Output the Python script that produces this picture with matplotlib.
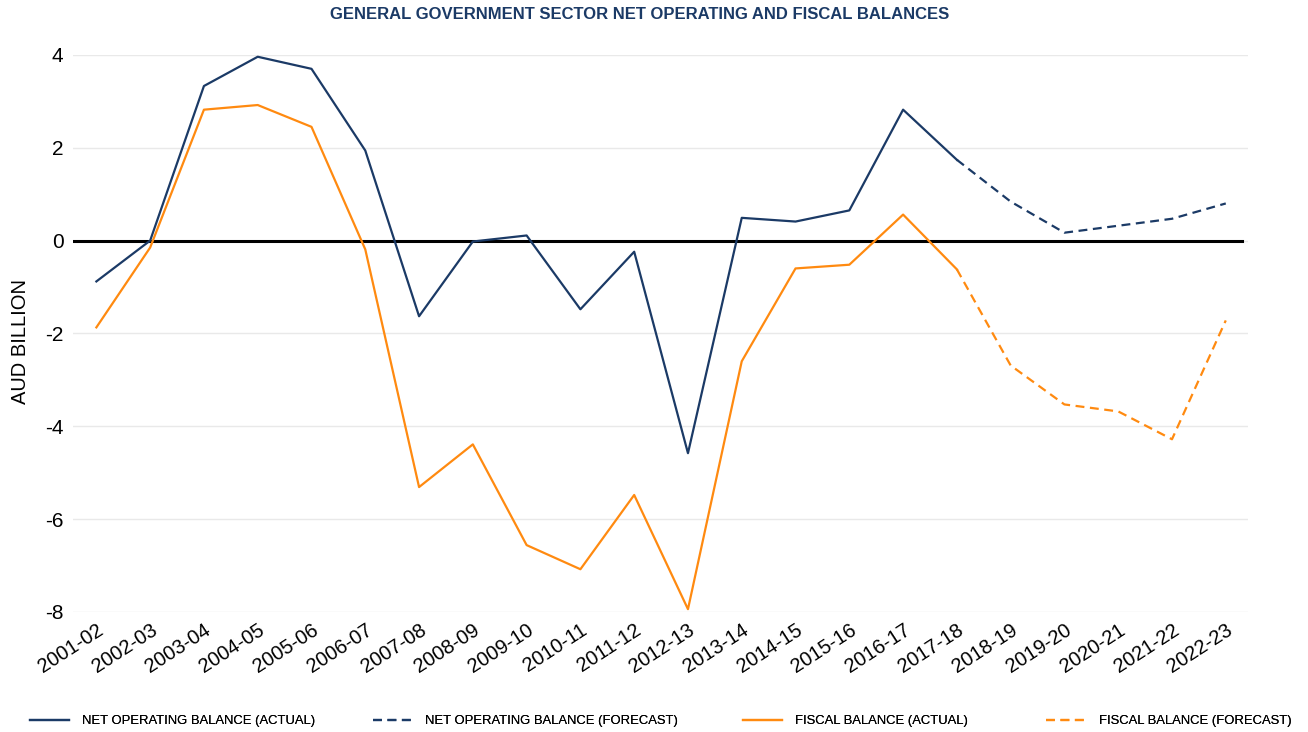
import matplotlib.pyplot as plt
import numpy as np

years = ["2001-02", "2002-03", "2003-04", "2004-05", "2005-06", "2006-07", "2007-08",
         "2008-09", "2009-10", "2010-11", "2011-12", "2012-13", "2013-14", "2014-15",
         "2015-16", "2016-17", "2017-18", "2018-19", "2019-20", "2020-21", "2021-22", "2022-23"]

# net operating balance, AUD billion (actual up to 2017-18, forecast after)
nob_actual = [-0.88, 0.0, 3.33, 3.96, 3.70, 1.94, -1.63, -0.02, 0.11, -1.48, -0.24,
              -4.58, 0.49, 0.41, 0.65, 2.82, 1.74]
nob_forecast = [1.74, 0.84, 0.17, 0.32, 0.47, 0.80]

# fiscal balance, AUD billion
fb_actual = [-1.87, -0.15, 2.82, 2.92, 2.45, -0.19, -5.31, -4.39, -6.56, -7.08, -5.48,
             -7.94, -2.60, -0.60, -0.52, 0.56, -0.62]
fb_forecast = [-0.62, -2.69, -3.53, -3.68, -4.28, -1.72]

navy = "#1b3a66"
orange = "#ff8a10"

plt.rcParams['font.family'] = ['Liberation Sans', 'DejaVu Sans']

fig = plt.figure(figsize=(13.08, 7.32), dpi=100)
ax = fig.add_axes([0.056, 0.164, 0.898, 0.761])

x = np.arange(len(years))
xa = x[:len(nob_actual)]
xf = x[len(nob_actual) - 1:]

l1, = ax.plot(xa, nob_actual, color=navy, lw=1.6)
l2, = ax.plot(xf, nob_forecast, color=navy, lw=1.6, ls=(0, (4, 2.5)))
l3, = ax.plot(xa, fb_actual, color=orange, lw=1.6)
l4, = ax.plot(xf, fb_forecast, color=orange, lw=1.6, ls=(0, (4, 2.5)))

ax.axhline(0, color="black", lw=2.2, xmin=0.0, xmax=0.995, zorder=1)

ax.set_xlim(-0.43, 21.41)
ax.set_ylim(-8, 4)
ax.set_yticks([4, 2, 0, -2, -4, -6, -8])
ax.set_yticklabels(["4", "2", "0", "-2", "-4", "-6", "-8"], fontsize=15)
ax.set_xticks(x)
ax.set_xticklabels(years, rotation=33, ha="right", rotation_mode="anchor", fontsize=14.5)
ax.tick_params(axis="x", length=0, pad=6)
ax.tick_params(axis="y", length=0, pad=7)
ax.grid(axis="y", color="#e9e9e9", lw=1)
ax.set_axisbelow(True)
for s in ax.spines.values():
    s.set_visible(False)

ax.set_ylabel("AUD BILLION", fontsize=14.5)
ax.yaxis.set_label_coords(-0.037, 0.485)
fig.suptitle("GENERAL GOVERNMENT SECTOR NET OPERATING AND FISCAL BALANCES",
             fontsize=12, fontweight="bold", color=navy, x=0.489, y=0.99)

# legend entries spaced like the original
entries = [(l1, "NET OPERATING BALANCE (ACTUAL)", 0.014),
           (l2, "NET OPERATING BALANCE (FORECAST)", 0.276),
           (l3, "FISCAL BALANCE (ACTUAL)", 0.559),
           (l4, "FISCAL BALANCE (FORECAST)", 0.791)]
for h, lab, x0 in entries:
    leg = fig.legend([h], [lab], loc="center left", bbox_to_anchor=(x0, 0.015),
                     frameon=False, fontsize=9.4, handlelength=3.0, handletextpad=1.0)
    fig.add_artist(leg)

fig.savefig("out.png", dpi=100)
